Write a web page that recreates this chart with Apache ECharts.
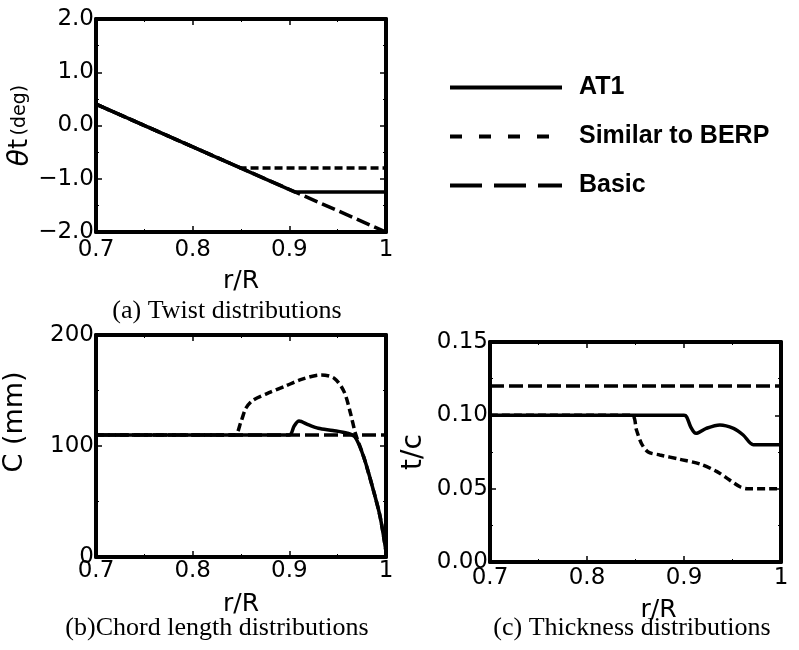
<!DOCTYPE html>
<html>
<head>
<meta charset="utf-8">
<script src="https://cdn.jsdelivr.net/npm/echarts@6/dist/echarts.min.js"></script>
<style>
  html, body { margin: 0; background: #fff; }
  #chart { width: 799px; height: 650px; }
</style>
</head>
<body>
<div id="chart"></div>
<script>
// (a) twist distributions, theta_t (deg) vs r/R
const twistBasicR = [0.7, 1.0];
const twistBasic = [0.4, -2.0];
const twistBerpR = [0.7, 0.85, 1.0];
const twistBerp = [0.4, -0.8, -0.8];
const twistAt1R = [0.7, 0.906, 1.0];
const twistAt1 = [0.4, -1.25, -1.25];

// (b) chord length distributions, C (mm) vs r/R
const chordBasicR = [0.7, 1.0];
const chordBasic = [110, 110];
const chordBerpR = [0.7, 0.843, 0.85, 0.855, 0.862, 0.879, 0.896, 0.9125, 0.933, 0.9465, 0.9566, 0.9634, 0.9685, 0.977, 0.987, 0.994, 1.0];
const chordBerp = [110, 110, 122, 134, 141, 148, 154, 160, 164, 161, 149, 129, 111, 90, 60, 36, 5];
const chordAt1R = [0.7, 0.9, 0.905, 0.91, 0.92, 0.93, 0.945, 0.96, 0.968, 0.977, 0.987, 0.994, 1.0];
const chordAt1 = [110, 110, 118, 122.5, 119, 116, 114, 111.5, 108, 90, 60, 36, 5];

// (c) thickness distributions, t/c vs r/R
const thickBasicR = [0.7, 1.0];
const thickBasic = [0.12, 0.12];
const thickBerpR = [0.7, 0.846, 0.851, 0.856, 0.863, 0.875, 0.896, 0.9165, 0.934, 0.947, 0.9577, 0.965, 1.0];
const thickBerp = [0.10, 0.10, 0.090, 0.081, 0.075, 0.073, 0.070, 0.0668, 0.0616, 0.0559, 0.0513, 0.050, 0.050];
const thickAt1R = [0.7, 0.9, 0.9027, 0.907, 0.9124, 0.923, 0.937, 0.951, 0.961, 0.9715, 1.0];
const thickAt1 = [0.10, 0.10, 0.099, 0.092, 0.0877, 0.0911, 0.0934, 0.0911, 0.0866, 0.080, 0.080];

const seriesNames = ['AT1', 'Similar to BERP', 'Basic'];
const captions = ['(a) Twist distributions', '(b)Chord length distributions', '(c) Thickness distributions'];

const SANS = 'Liberation Sans, Arial, sans-serif';
const WIDE = 'DejaVu Sans, sans-serif';
const SERIF = 'Liberation Serif, Times New Roman, serif';

const chart = echarts.init(document.getElementById('chart'));

const pairs = (xs, ys) => xs.map((x, i) => [x, ys[i]]);

const grids = [
    {left: 96, top: 19, width: 290, height: 213},
    {left: 91, top: 335, width: 295, height: 222},
    {left: 490, top: 342, width: 291, height: 220}
];

const lineCommon = {show: true, onZero: false, lineStyle: {color: '#000', width: 4}};
const tickCommon = {show: true, inside: true, length: 6, lineStyle: {color: '#000', width: 1.5}};
const minorCommon = {show: true, splitNumber: 2, length: 3, lineStyle: {color: '#000', width: 1}};

const fmtR = v => Math.abs(v - 1) < 1e-9 ? '1' : v.toFixed(1);

function xAxes(g, labelMargin, nameGap, namePad) {
    const base = {
        type: 'value', gridIndex: g, min: 0.7, max: 1.0, interval: 0.1,
        axisLine: lineCommon, axisTick: tickCommon, minorTick: minorCommon,
        splitLine: {show: false}
    };
    return [
        Object.assign({}, base, {
            position: 'bottom',
            axisLabel: {color: '#000', fontFamily: WIDE, fontSize: 23, margin: labelMargin, formatter: fmtR},
            name: 'r/R', nameLocation: 'middle', nameGap: nameGap,
            nameTextStyle: {color: '#000', fontFamily: WIDE, fontSize: 25, padding: namePad}
        }),
        Object.assign({}, base, {position: 'top', axisLabel: {show: false}})
    ];
}

function yAxes(g, min, max, interval, digits, name, nameGap, nameStyle) {
    const base = {
        type: 'value', gridIndex: g, min: min, max: max, interval: interval,
        axisLine: lineCommon, axisTick: tickCommon, minorTick: minorCommon,
        splitLine: {show: false}
    };
    return [
        Object.assign({}, base, {
            position: 'left',
            axisLabel: {
                color: '#000', fontFamily: WIDE, fontSize: 23, margin: 2,
                formatter: v => (v < 0 ? '\u2212' : '') + Math.abs(v).toFixed(digits)
            },
            name: name, nameLocation: 'middle', nameGap: nameGap,
            nameTextStyle: nameStyle
        }),
        Object.assign({}, base, {position: 'right', axisLabel: {show: false}})
    ];
}

const xAxis = [].concat(
    xAxes(0, 7, 37, [0, 0, 0, 0]),
    xAxes(1, 3, 35, [0, 0, 0, 0]),
    xAxes(2, 5, 36, [0, 0, 0, 46])
);

const yAxis = [].concat(
    yAxes(0, -2, 2, 1, 1, '{th|θ}{t|t} {d|(deg)}', 60, {
        color: '#000',
        rich: {
            th: {fontFamily: WIDE, fontSize: 28, fontStyle: 'italic', color: '#000'},
            t: {fontFamily: WIDE, fontSize: 26, color: '#000'},
            d: {fontFamily: WIDE, fontSize: 19, color: '#000'}
        }
    }),
    yAxes(1, 0, 200, 100, 0, 'C (mm)', 68, {color: '#000', fontFamily: WIDE, fontSize: 27, padding: [0, 0, 0, 48]}),
    yAxes(2, 0, 0.15, 0.05, 2, 't/c', 62, {color: '#000', fontFamily: WIDE, fontSize: 28})
);

const styles = {
    'AT1': {type: 'solid', width: 3.5},
    'Similar to BERP': {type: [8, 4], width: 3.5},
    'Basic': {type: [14, 5], width: 3.5}
};

function mk(name, g, xs, ys, smooth) {
    return {
        name: name, type: 'line', xAxisIndex: g * 2, yAxisIndex: g * 2,
        data: pairs(xs, ys), symbol: 'none', smooth: smooth || false,
        lineStyle: Object.assign({color: '#000'}, styles[name]),
        itemStyle: {color: '#000'},
        z: name === 'AT1' ? 4 : 3
    };
}

const series = [
    mk('Basic', 0, twistBasicR, twistBasic),
    mk('Similar to BERP', 0, twistBerpR, twistBerp),
    mk('AT1', 0, twistAt1R, twistAt1),
    mk('Basic', 1, chordBasicR, chordBasic),
    mk('Similar to BERP', 1, chordBerpR, chordBerp, 0.3),
    mk('AT1', 1, chordAt1R, chordAt1, 0.3),
    mk('Basic', 2, thickBasicR, thickBasic),
    mk('Similar to BERP', 2, thickBerpR, thickBerp, 0.3),
    mk('AT1', 2, thickAt1R, thickAt1, 0.3)
];

const captionPos = [[227, 311], [217, 628], [632, 628]];

const noSymbol = {opacity: 0, color: 'transparent', borderWidth: 0};

const option = {
    animation: false,
    backgroundColor: '#fff',
    grid: grids,
    xAxis: xAxis,
    yAxis: yAxis,
    legend: {
        orient: 'vertical', left: 443, top: 70,
        itemWidth: 112, itemHeight: 24, itemGap: 24,
        selectedMode: false,
        textStyle: {color: '#000', fontFamily: SANS, fontSize: 25, fontWeight: 'bold', padding: [0, 0, 0, 12]},
        data: [
            {name: seriesNames[0], itemStyle: noSymbol, lineStyle: {type: 'solid', width: 4, color: '#000'}},
            {name: seriesNames[1], itemStyle: noSymbol, lineStyle: {type: [12, 17], width: 4, color: '#000'}},
            {name: seriesNames[2], itemStyle: noSymbol, lineStyle: {type: [32, 12], width: 4, color: '#000'}}
        ]
    },
    graphic: captions.map((t, i) => ({
        type: 'text', x: captionPos[i][0], y: captionPos[i][1],
        style: {
            text: t, fill: '#000', font: '26px ' + SERIF,
            align: 'center', verticalAlign: 'middle',
            textAlign: 'center', textVerticalAlign: 'middle'
        }
    })),
    series: series
};

chart.setOption(option);
</script>
</body>
</html>
